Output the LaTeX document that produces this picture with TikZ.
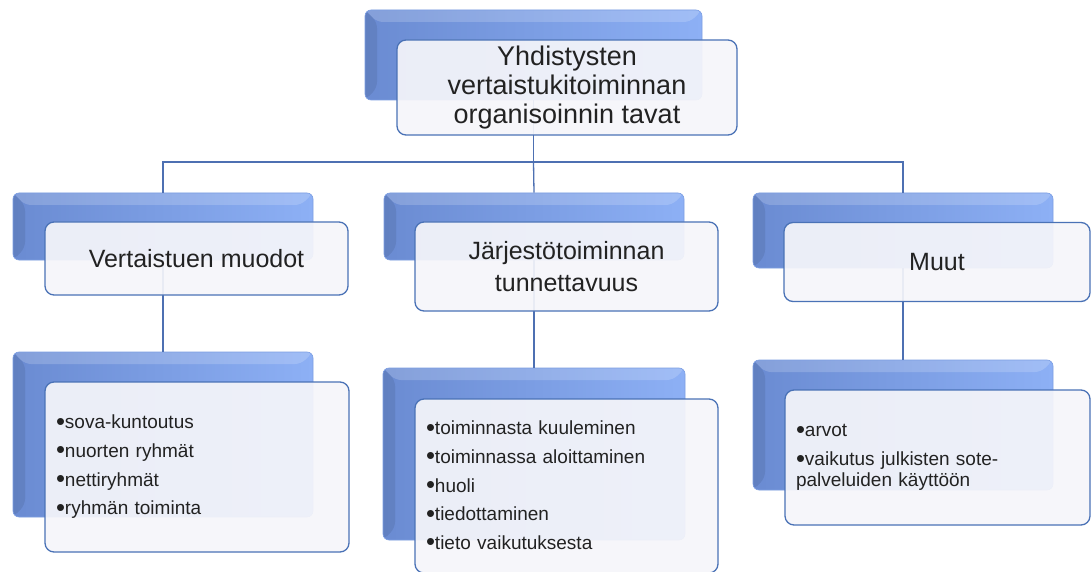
\documentclass[tikz,border=0pt]{standalone}
\usepackage{fontspec}
\setmainfont{Liberation Sans}
\definecolor{bvL}{HTML}{6A8BD2}
\definecolor{bvR}{HTML}{8DB0F5}
\definecolor{bvE}{HTML}{7C9EE2}
\definecolor{frE}{HTML}{4A72B6}
\definecolor{frF}{HTML}{F6F6FA}
\definecolor{cn}{HTML}{4D70B2}
\definecolor{tx}{HTML}{222222}
\newcommand{\bul}{\raisebox{-1.2pt}{\scalebox{1.35}{\textbullet}}}
\begin{document}
\begin{tikzpicture}[x=1pt,y=-1pt,
  back/.style={rounded corners=6pt, left color=bvL, right color=bvR, draw=bvE, line width=0.6pt, inner sep=0pt,
    path picture={
      \fill[white,opacity=0.18] (path picture bounding box.north west) -- (path picture bounding box.north east) -- ++(-12pt,-12pt) -- ([xshift=12pt,yshift=-12pt]path picture bounding box.north west) -- cycle;
      \fill[black,opacity=0.08] (path picture bounding box.north west) -- ++(12pt,-12pt) -- ([xshift=12pt,yshift=12pt]path picture bounding box.south west) -- (path picture bounding box.south west) -- cycle;
    }},
  front/.style={rounded corners=9pt, draw=frE, line width=1.3pt, fill=frF, fill opacity=0.92, text opacity=1, text=tx, align=center, inner sep=0pt},
  items/.style={front, align=left, inner xsep=11pt, inner ysep=0pt, font=\fontsize{19}{20.5}\selectfont},
  conn/.style={draw=cn, line width=1.3pt},
  h1/.style={font=\fontsize{27}{29}\selectfont},
  h2/.style={font=\fontsize{25}{32}\selectfont}
]
\useasboundingbox[fill=white] (0,0) rectangle (1092,572);
% back boxes
\node[back, minimum width=337pt, minimum height=90pt] (b0) at (533.5,55) {};
\node[back, minimum width=300pt, minimum height=67pt] (b1) at (163,226.5) {};
\node[back, minimum width=300pt, minimum height=67pt] (b2) at (534,226.5) {};
\node[back, minimum width=300pt, minimum height=75pt] (b3) at (903,230.5) {};
\node[back, minimum width=300pt, minimum height=165pt] (c1) at (163,434.5) {};
\node[back, minimum width=302pt, minimum height=172pt] (c2) at (534,454) {};
\node[back, minimum width=300pt, minimum height=130pt] (c3) at (903,425) {};
% connectors
\coordinate (hub) at (533.5,162);
\draw[conn] (b0.south) -- (hub);
\draw[conn] (b1.north) |- (hub) -| (b3.north);
\draw[conn] (hub) -- (b2.north);
\draw[conn] (b1.south) -- (c1.north);
\draw[conn] (b2.south) -- (c2.north);
\draw[conn] (b3.south) -- (c3.north);
% front boxes
\node[front, h1, minimum width=340pt, minimum height=95pt] (f0) at (567,87.5) {Yhdistysten\\vertaistukitoiminnan\\organisoinnin tavat};
\node[front, h2, minimum width=303pt, minimum height=73pt] (f1) at (196.5,258.5) {Vertaistuen muodot};
\node[front, h2, minimum width=303pt, minimum height=89pt] (f2) at (566.5,266.5) {Järjestötoiminnan\\tunnettavuus};
\node[front, h2, minimum width=306pt, minimum height=79pt] (f3) at (937,262) {Muut};
\node[items, text width=282pt, minimum height=170pt] (g1) at (197,467) {\bul sova-kuntoutus\\[8.2pt]\bul nuorten ryhmät\\[8.2pt]\bul nettiryhmät\\[8.2pt]\bul ryhmän toiminta};
\node[items, text width=281pt, minimum height=174pt] (g2) at (566.5,486) {\bul toiminnasta kuuleminen\\[8.2pt]\bul toiminnassa aloittaminen\\[8.2pt]\bul huoli\\[8.2pt]\bul tiedottaminen\\[8.2pt]\bul tieto vaikutuksesta};
\node[items, text width=283pt, minimum height=135pt] (g3) at (937.5,457.5) {\bul arvot\\[8.5pt]\bul vaikutus julkisten sote-\\palveluiden käyttöön};
\end{tikzpicture}
\end{document}
